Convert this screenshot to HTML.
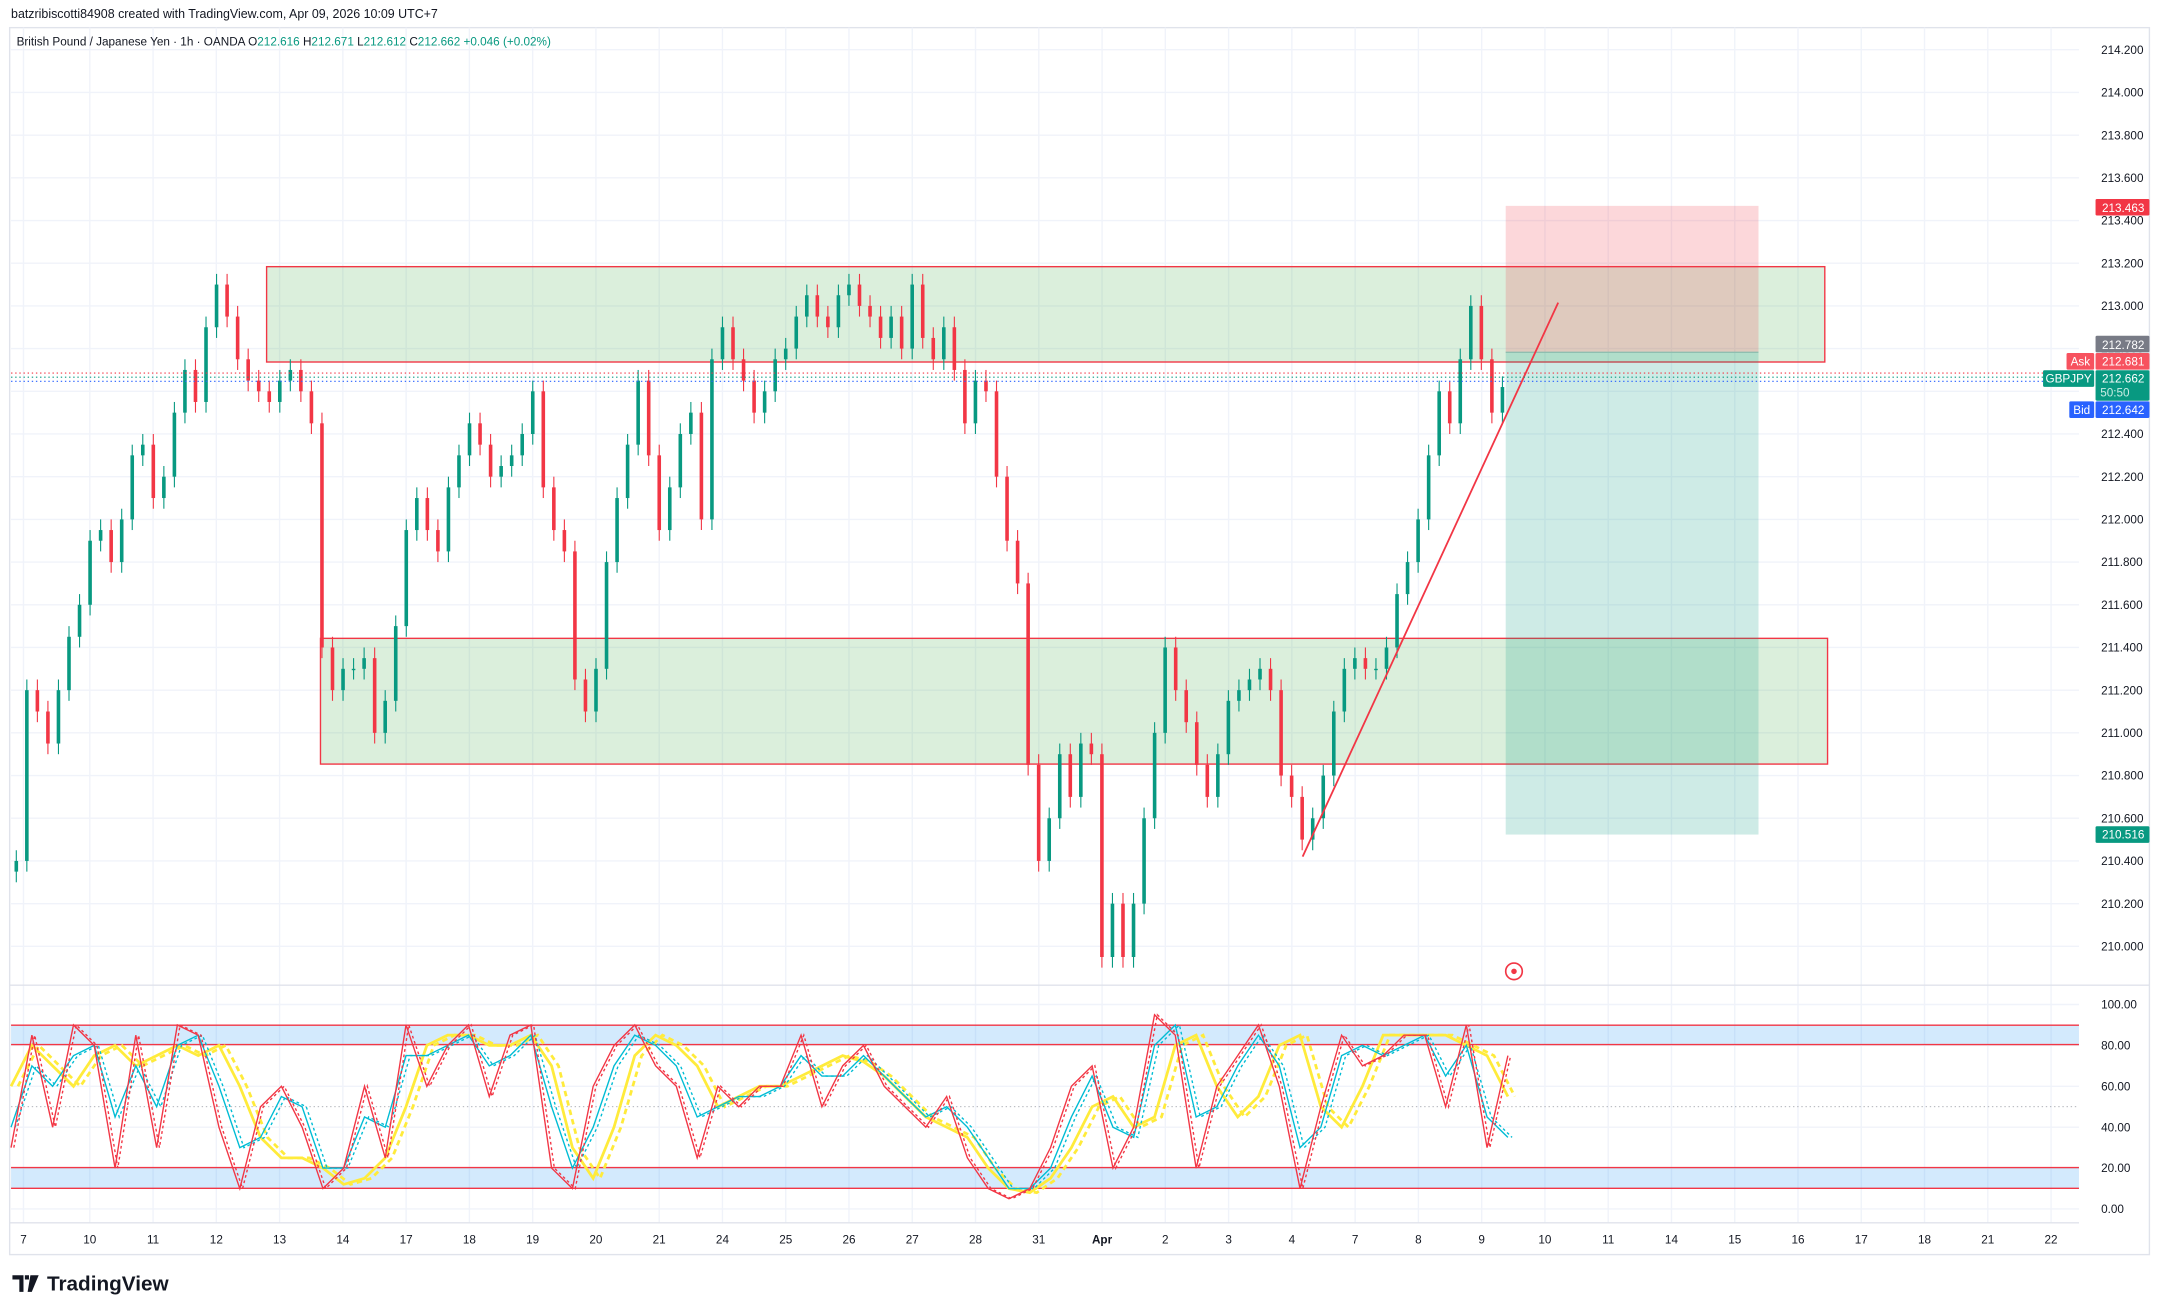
<!DOCTYPE html>
<html><head><meta charset="utf-8"><style>
html,body{margin:0;padding:0;background:#fff;}
svg{display:block;font-family:"Liberation Sans",sans-serif;}
</style></head><body>
<svg id="chart" width="2166" height="1314" viewBox="0 0 1568 951" preserveAspectRatio="none" xmlns="http://www.w3.org/2000/svg">
<rect width="1568" height="951" fill="#fff"/>
<text x="8" y="13" font-size="9" fill="#131722">batzribiscotti84908 created with TradingView.com, Apr 09, 2026 10:09 UTC+7</text>
<rect x="7" y="20" width="1549" height="888" fill="none" stroke="#e0e3eb" stroke-width="1"/>
<g id="grid"></g>
<g id="zones">
<rect x="193" y="193" width="1128" height="69" fill="rgba(76,175,80,0.2)" stroke="#f23645" stroke-width="1"/>
<rect x="232" y="462" width="1091" height="91" fill="rgba(76,175,80,0.2)" stroke="#f23645" stroke-width="1"/>
<rect x="1090" y="149" width="183" height="106" fill="rgba(242,54,69,0.2)"/>
<rect x="1090" y="255" width="183" height="349" fill="rgba(8,153,129,0.2)"/>
<line x1="1090" y1="255" x2="1273" y2="255" stroke="#8fbfb0" stroke-width="1"/>
</g>
<g id="candles"></g>
<line x1="943" y1="620" x2="1128" y2="219" stroke="#f23645" stroke-width="1.3"/>
<g>
<line x1="8" y1="270" x2="1505" y2="270" stroke="#f23645" stroke-width="0.8" stroke-dasharray="1,2"/>
<line x1="8" y1="273" x2="1505" y2="273" stroke="#089981" stroke-width="0.8" stroke-dasharray="1,2"/>
<line x1="8" y1="276" x2="1505" y2="276" stroke="#2962ff" stroke-width="0.8" stroke-dasharray="1,2"/>
</g>
<g><circle cx="1096" cy="703" r="6" fill="none" stroke="#f23645" stroke-width="1.2"/><circle cx="1096" cy="703" r="2" fill="#f23645"/></g>
<text x="12" y="33" font-size="8.5" fill="#131722">British Pound / Japanese Yen · 1h · OANDA <tspan fill="#131722">O</tspan><tspan fill="#089981">212.616</tspan> H<tspan fill="#089981">212.671</tspan> L<tspan fill="#089981">212.612</tspan> C<tspan fill="#089981">212.662 +0.046 (+0.02%)</tspan></text>
<line x1="7" y1="713" x2="1556" y2="713" stroke="#e0e3eb"/>
<g id="osc-bands">
<rect x="8" y="742" width="1497" height="14" fill="rgba(33,150,243,0.2)"/>
<rect x="8" y="845" width="1497" height="15" fill="rgba(33,150,243,0.2)"/>
<line x1="8" y1="742" x2="1505" y2="742" stroke="#f23645"/>
<line x1="8" y1="756" x2="1505" y2="756" stroke="#f23645"/>
<line x1="8" y1="845" x2="1505" y2="845" stroke="#f23645"/>
<line x1="8" y1="860" x2="1505" y2="860" stroke="#f23645"/>
<line x1="8" y1="801" x2="1505" y2="801" stroke="#9598a1" stroke-width="0.6" stroke-dasharray="1,2"/>
</g>
<g id="osc"></g>
<g id="axes"></g>
<g id="labels">
<rect x="1517" y="144" width="39" height="12" fill="#f23645" rx="1"/><text x="1537" y="153.5" font-size="8.5" fill="#fff" text-anchor="middle">213.463</text>
<rect x="1517" y="243" width="39" height="12" fill="#787b86" rx="1"/><text x="1537" y="252.5" font-size="8.5" fill="#fff" text-anchor="middle">212.782</text>
<rect x="1496" y="255.5" width="20" height="12" fill="#f7525f" rx="1"/><text x="1506" y="264.5" font-size="8.5" fill="#fff" text-anchor="middle">Ask</text>
<rect x="1517" y="255.5" width="39" height="12" fill="#f7525f" rx="1"/><text x="1537" y="264.5" font-size="8.5" fill="#fff" text-anchor="middle">212.681</text>
<rect x="1479" y="268" width="37" height="12" fill="#089981" rx="1"/><text x="1497.5" y="277" font-size="8.5" fill="#fff" text-anchor="middle">GBPJPY</text>
<rect x="1517" y="268" width="39" height="22" fill="#089981" rx="1"/><text x="1537" y="277" font-size="8.5" fill="#fff" text-anchor="middle">212.662</text><text x="1531" y="287" font-size="8.5" fill="#c8ece4" text-anchor="middle">50:50</text>
<rect x="1498" y="290.5" width="18" height="12" fill="#2962ff" rx="1"/><text x="1507" y="299.5" font-size="8.5" fill="#fff" text-anchor="middle">Bid</text>
<rect x="1517" y="290.5" width="39" height="12" fill="#2962ff" rx="1"/><text x="1537" y="299.5" font-size="8.5" fill="#fff" text-anchor="middle">212.642</text>
<rect x="1517" y="598" width="39" height="12" fill="#089981" rx="1"/><text x="1537" y="607" font-size="8.5" fill="#fff" text-anchor="middle">210.516</text>
</g>
<g>
<path d="M9 923h8v12h-3v-9h-5z M18 923h3v3h-3z M22 923h6l-5 12h-3z" fill="#131722"/>
<text x="34" y="934" font-size="15" font-weight="bold" fill="#131722">TradingView</text>
</g>
</svg>
<script>
const closes=[210.4,211.2,211.1,210.95,211.2,211.45,211.6,211.9,211.95,211.8,212.0,212.3,212.35,212.1,212.2,212.5,212.7,212.55,212.9,213.1,212.95,212.75,212.65,212.6,212.55,212.65,212.7,212.6,212.45,211.4,211.2,211.3,211.3,211.35,211.0,211.15,211.5,211.95,212.1,211.95,211.85,212.15,212.3,212.45,212.35,212.2,212.25,212.3,212.4,212.6,212.15,211.95,211.85,211.25,211.1,211.3,211.8,212.1,212.35,212.65,212.3,211.95,212.15,212.4,212.5,212.0,212.75,212.9,212.75,212.65,212.5,212.6,212.75,212.8,212.95,213.05,212.95,212.9,213.05,213.1,213.0,212.95,212.85,212.95,212.8,213.1,212.85,212.75,212.9,212.7,212.45,212.65,212.6,212.2,211.9,211.7,210.85,210.4,210.6,210.9,210.7,210.95,210.9,209.95,210.2,209.95,210.2,210.6,211.0,211.4,211.2,211.05,210.85,210.7,210.9,211.15,211.2,211.25,211.3,211.2,210.8,210.7,210.5,210.6,210.8,211.1,211.3,211.35,211.3,211.3,211.4,211.65,211.8,212.0,212.3,212.6,212.45,212.75,213.0,212.75,212.5,212.62];
const stochFast=[30,85,40,90,80,20,85,30,90,85,40,10,50,60,40,10,20,60,25,90,60,80,90,55,85,90,20,10,60,80,90,70,60,25,60,50,60,60,85,50,70,80,60,50,40,55,25,10,5,10,30,60,70,20,40,95,85,20,60,75,90,60,10,50,85,70,75,85,85,50,90,30,75];
const stochMid=[40,70,60,75,80,45,70,50,80,85,60,30,35,55,50,20,20,45,40,75,75,80,85,70,75,85,50,20,40,70,85,80,70,45,50,55,55,60,75,65,65,75,65,55,45,50,40,25,10,10,20,45,65,40,35,80,90,45,50,70,85,70,30,40,75,80,75,80,85,65,80,45,35];
const stochSlow=[60,80,70,60,75,80,70,75,80,75,80,60,35,25,25,20,12,15,25,50,80,85,85,80,80,85,70,30,15,40,75,85,80,70,50,55,60,60,65,70,75,72,65,55,45,40,35,20,10,8,15,30,50,55,40,45,80,85,60,45,55,80,85,50,40,60,85,85,85,85,80,75,55];
const priceTicks=["214.200","214.000","213.800","213.600","213.400","213.200","213.000","212.800","212.600","212.400","212.200","212.000","211.800","211.600","211.400","211.200","211.000","210.800","210.600","210.400","210.200","210.000"];
const oscTicks=["100.00","80.00","60.00","40.00","20.00","0.00"];
const dateLabels=["7","10","11","12","13","14","17","18","19","20","21","24","25","26","27","28","31","Apr","2","3","4","7","8","9","10","11","14","15","16","17","18","21","22"];
const NS="http://www.w3.org/2000/svg";
const yP=p=>36+(214.2-p)*154.5;
const yO=v=>875-v*1.48;
const xBar=i=>8+7.63*i+3.8;
const xOsc=i=>8+i*15.05;
const xDate=i=>i===0?17:65+(i-1)*45.8;
function mk(tag,attrs,parent){const e=document.createElementNS(NS,tag);for(const k in attrs)e.setAttribute(k,attrs[k]);parent.appendChild(e);return e;}
const grid=document.getElementById('grid'),axes=document.getElementById('axes');
priceTicks.forEach(t=>{const y=yP(parseFloat(t));
 const l=mk('line',{x1:8,x2:1505,y1:y,y2:y,stroke:'#f0f3fa'},grid);
 
 
 const tx=mk('text',{x:1521,y:y+3,'font-size':8.5,fill:'#131722'},axes);tx.textContent=t;
 
 });
oscTicks.forEach(t=>{const y=yO(parseFloat(t));
 const l=mk('line',{x1:8,x2:1505,y1:y,y2:y,stroke:'#f0f3fa'},grid);
 
 
 const tx=mk('text',{x:1521,y:y+3,'font-size':8.5,fill:'#131722'},axes);tx.textContent=t;
 
 });
dateLabels.forEach((t,i)=>{const x=xDate(i);
 const l=mk('line',{x1:x,x2:x,y1:20,y2:885,stroke:'#f0f3fa'},grid);
 
 
 const tx=mk('text',{x:x,y:900,'font-size':8.5,fill:'#131722','text-anchor':'middle','font-weight':t==='Apr'?'bold':'normal'},axes);tx.textContent=t;
 
 });
mk('line',{x1:7,x2:1505,y1:885,y2:885,stroke:'#e0e3eb'},axes);
const cg=document.getElementById('candles');
closes.forEach((c,i)=>{const o=i?closes[i-1]:c-0.05;const up=c>=o;const col=up?'#089981':'#f23645';
 const x=xBar(i);const hi=Math.max(o,c)+0.05,lo=Math.min(o,c)-0.05;
 const w=mk('line',{x1:x,x2:x,y1:yP(hi),y2:yP(lo),stroke:col,'stroke-width':0.8},cg);
 
 
 const top=yP(Math.max(o,c)),bot=yP(Math.min(o,c));
 const b=mk('rect',{x:x-1.3,y:top,width:2.6,height:Math.max(1,bot-top),fill:col},cg);
 
 });
const og=document.getElementById('osc');
function series(arr,col,w,dash,shift,name){const pts=arr.map((v,i)=>(xOsc(i)+shift).toFixed(1)+','+yO(v).toFixed(1)).join(' ');
 const p=mk('polyline',{points:pts,fill:'none',stroke:col,'stroke-width':w},og);if(dash)p.setAttribute('stroke-dasharray',dash);
 
 }
series(stochSlow,'#ffeb3b',2,'4,3',5,'slow-signal-line');
series(stochSlow,'#ffeb3b',2,null,0,'slow-k-line');
series(stochMid,'#00bcd4',1,'2,2',3,'mid-signal-line');
series(stochMid,'#00bcd4',1,null,0,'mid-k-line');
series(stochFast,'#f23645',1,'2,2',2,'fast-signal-line');
series(stochFast,'#f23645',1,null,0,'fast-k-line');
</script>
</body></html>
